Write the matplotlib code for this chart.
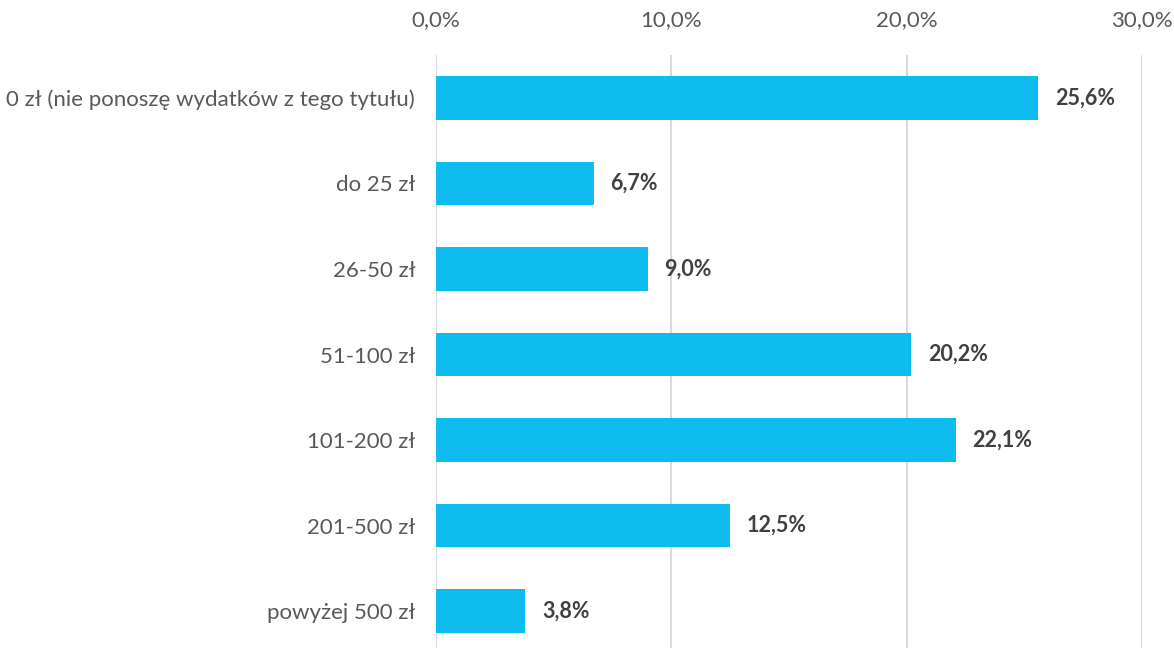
import matplotlib
matplotlib.use('Agg')
import matplotlib.pyplot as plt
from matplotlib.ticker import FuncFormatter

# answer categories and share of respondents (%)
categories = ['0 zł (nie ponoszę wydatków z tego tytułu)', 'do 25 zł', '26-50 zł',
              '51-100 zł', '101-200 zł', '201-500 zł', 'powyżej 500 zł']
values = [25.6, 6.7, 9.0, 20.2, 22.1, 12.5, 3.8]
xticks = [0, 10, 20, 30]

plt.rcParams['font.family'] = ['Lato', 'DejaVu Sans']

fig = plt.figure(figsize=(11.74, 6.48), dpi=100)
ax = fig.add_axes([436 / 1174, (648 - 654) / 648, (1142 - 436) / 1174, 599 / 648])

pos = list(range(len(categories)))
ax.barh(pos, values, height=0.51, color='#0FBCEF', zorder=3)

for y, v in zip(pos, values):
    ax.text(v + 0.7, y, ('%.1f%%' % v).replace('.', ','), va='center', ha='left',
            fontsize=15.5, fontweight='bold', color='#404040')

ax.set_xlim(0, 30)
ax.set_ylim(6.5, -0.5)
ax.set_xticks(xticks)
ax.xaxis.set_major_formatter(FuncFormatter(lambda x, p: ('%.1f%%' % x).replace('.', ',')))
ax.xaxis.tick_top()
ax.set_yticks(pos)
ax.set_yticklabels(categories)
ax.tick_params(axis='both', length=0, labelsize=16, labelcolor='#595959')
ax.tick_params(axis='x', pad=18)
ax.tick_params(axis='y', pad=15)
ax.grid(axis='x', color='#D9D9D9', linewidth=1.5, zorder=0)
for s in ax.spines.values():
    s.set_visible(False)

fig.savefig('out.png', dpi=100)
